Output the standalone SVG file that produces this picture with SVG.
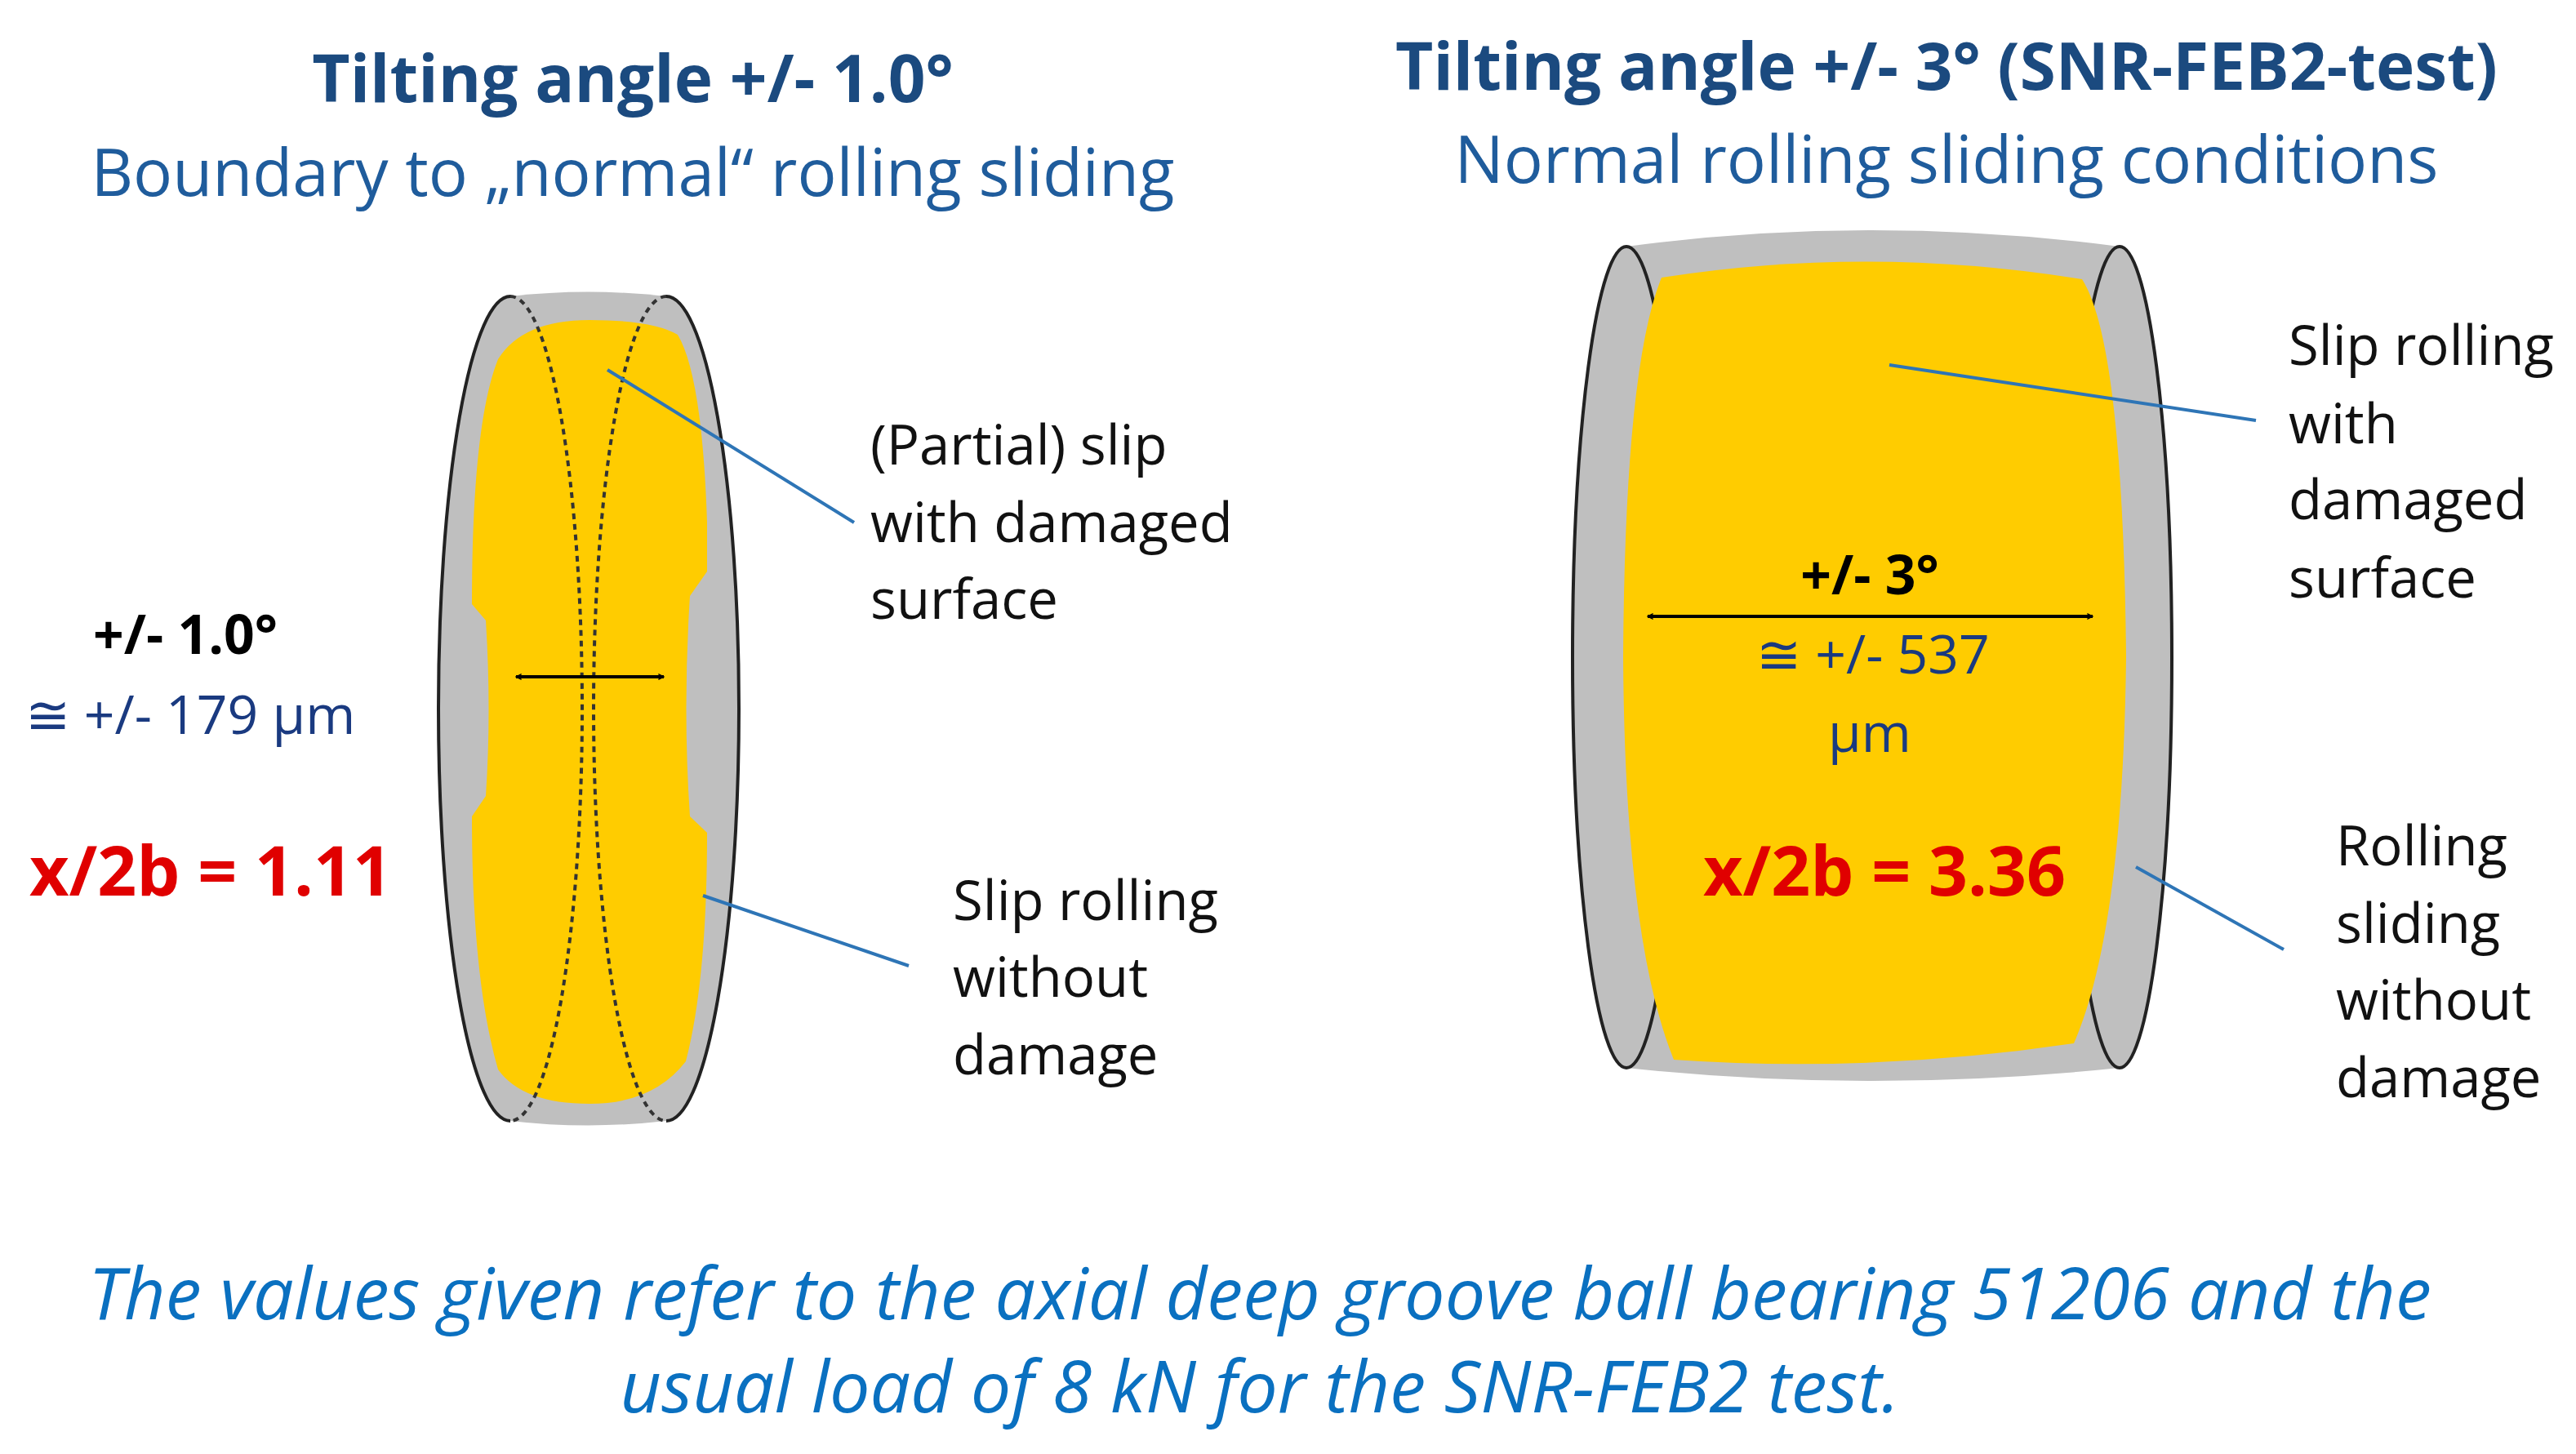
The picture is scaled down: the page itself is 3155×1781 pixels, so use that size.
<svg xmlns="http://www.w3.org/2000/svg" width="3155" height="1781" viewBox="0 0 3155 1781">
<style>
text{font-family:"Open Sans","Liberation Sans",sans-serif}
.h{font-size:80px;font-weight:bold;fill:#1b4a7f;text-anchor:middle}
.s{font-size:80px;fill:#1f5c9c;text-anchor:middle}
.l{font-size:67px;fill:#111}
.b{font-size:66px;font-weight:bold;fill:#000;text-anchor:middle}
.u{font-size:66px;fill:#1a3a80;text-anchor:middle}
.r{font-size:84px;font-weight:bold;fill:#e00000;text-anchor:middle}
.f{font-size:88px;font-style:italic;fill:#0a70c0;text-anchor:middle}
.gray{fill:#bfbfbf}
.yel{fill:#ffcc00}
.ol{fill:none;stroke:#222;stroke-width:4}
.ds{fill:none;stroke:#333;stroke-width:4;stroke-dasharray:7 6}
.lead{stroke:#2e75b6;stroke-width:4;fill:none}
.dim{stroke:#000;stroke-width:4;fill:none;marker-start:url(#a);marker-end:url(#a)}
</style>
<defs>
<marker id="a" viewBox="0 0 12 12" refX="11" refY="6" markerWidth="8" markerHeight="8" orient="auto-start-reverse" markerUnits="userSpaceOnUse"><path d="M1,1 L11,6 L1,11" fill="none" stroke="#000" stroke-width="2"/></marker>
</defs>
<rect width="3155" height="1781" fill="#fff"/>
<g id="titles">
<text class="h" x="775" y="125">Tilting angle +/- 1.0°</text>
<text class="s" x="775" y="240">Boundary to „normal“ rolling sliding</text>
<text class="h" x="2384" y="110">Tilting angle +/- 3° (SNR-FEB2-test)</text>
<text class="s" x="2384" y="224">Normal rolling sliding conditions</text>
</g>
<g id="left-contact">
<path class="gray" d="M625,363 Q720,352 816,363 L816,1373 Q720,1384 625,1373 Z"/>
<ellipse class="gray" cx="625" cy="868" rx="88" ry="505"/>
<ellipse class="gray" cx="816" cy="868" rx="89" ry="505"/>
<path class="yel" d="M722,392 Q800,392 830,410 Q860,460 866,640 L866,700 L845,730 Q836,870 845,1000 L866,1020 Q866,1200 840,1300 Q800,1352 722,1352 Q640,1352 610,1310 Q578,1200 578,1000 L595,975 Q602,870 595,760 L578,740 Q578,520 610,440 Q640,392 722,392 Z"/>
<path class="ol" d="M625,363 A88,505 0 0,0 625,1373"/>
<path class="ds" d="M625,363 A88,505 0 0,1 625,1373"/>
<path class="ol" d="M816,363 A89,505 0 0,1 816,1373"/>
<path class="ds" d="M816,363 A89,505 0 0,0 816,1373"/>
<line class="dim" x1="632" y1="829" x2="813" y2="829"/>
</g>
<g id="right-contact">
<path class="gray" d="M1992,302 Q2290,262 2596,302 L2596,1308 Q2290,1340 1992,1308 Z"/>
<ellipse class="gray" cx="1992" cy="805" rx="66" ry="503"/>
<ellipse class="gray" cx="2596" cy="805" rx="64" ry="503"/>
<ellipse class="ol" cx="1992" cy="805" rx="66" ry="503"/>
<ellipse class="ol" cx="2596" cy="805" rx="64" ry="503"/>
<path class="yel" d="M2035,340 Q2290,300 2550,342 Q2600,420 2604,805 Q2600,1140 2540,1278 Q2290,1315 2050,1298 Q1990,1150 1988,805 Q1990,450 2035,340 Z"/>
<line class="dim" x1="2018" y1="755" x2="2563" y2="755"/>
</g>
<g id="connectors">
<line class="lead" x1="744" y1="453" x2="1046" y2="640"/>
<line class="lead" x1="861" y1="1097" x2="1113" y2="1183"/>
<line class="lead" x1="2314" y1="447" x2="2763" y2="515"/>
<line class="lead" x1="2616" y1="1062" x2="2797" y2="1163"/>
</g>
<g id="labels">
<text class="l" x="1066" y="569">(Partial) slip</text>
<text class="l" x="1066" y="664">with damaged</text>
<text class="l" x="1066" y="758">surface</text>
<text class="l" x="1167" y="1127">Slip rolling</text>
<text class="l" x="1167" y="1221">without</text>
<text class="l" x="1167" y="1316">damage</text>
<text class="l" x="2803" y="447">Slip rolling</text>
<text class="l" x="2803" y="543">with</text>
<text class="l" x="2803" y="636">damaged</text>
<text class="l" x="2803" y="732">surface</text>
<text class="l" x="2861" y="1060">Rolling</text>
<text class="l" x="2861" y="1155">sliding</text>
<text class="l" x="2861" y="1249">without</text>
<text class="l" x="2861" y="1344">damage</text>
<text class="b" x="227" y="801">+/- 1.0°</text>
<text class="u" x="233" y="899">≅ +/- 179 µm</text>
<text class="r" x="258" y="1097">x/2b = 1.11</text>
<text class="b" x="2290" y="728">+/- 3°</text>
<text class="u" x="2294" y="825">≅ +/- 537</text>
<text class="u" x="2290" y="921">µm</text>
<text class="r" x="2308" y="1097">x/2b = 3.36</text>
</g>
<g id="footer">
<text class="f" x="1543" y="1616">The values given refer to the axial deep groove ball bearing 51206 and the</text>
<text class="f" x="1543" y="1730">usual load of 8 kN for the SNR-FEB2 test.</text>
</g>
</svg>
